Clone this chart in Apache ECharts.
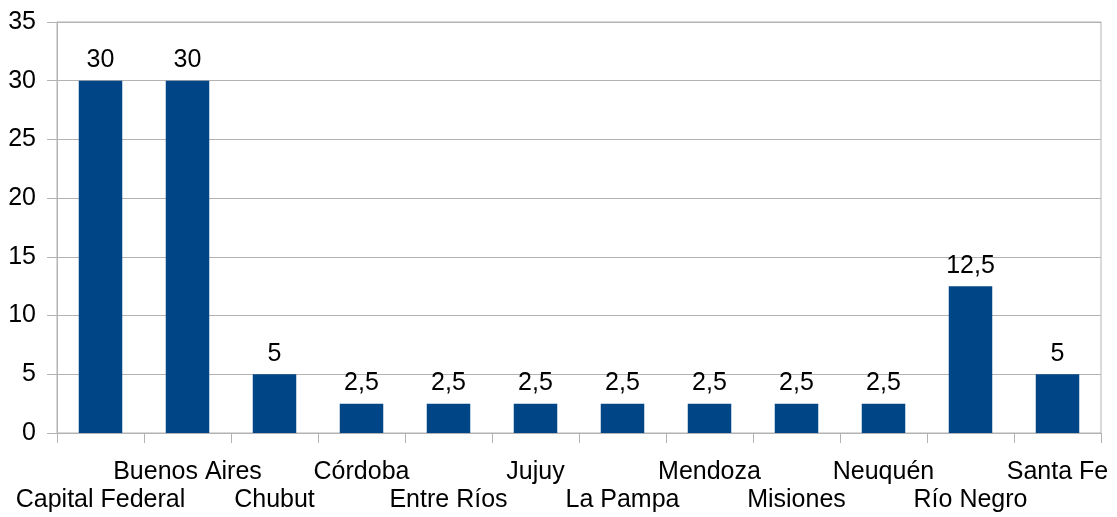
<!DOCTYPE html>
<html>
<head>
<meta charset="utf-8">
<script src="https://cdn.jsdelivr.net/npm/echarts@6/dist/echarts.min.js"></script>
<style>
  html, body { margin: 0; padding: 0; background: #fff; }
  #chart { width: 1117px; height: 517px; }
</style>
</head>
<body>
<div id="chart"></div>
<script>
const provinces = ['Capital Federal', 'Buenos Aires', 'Chubut', 'Córdoba', 'Entre Ríos', 'Jujuy',
  'La Pampa', 'Mendoza', 'Misiones', 'Neuquén', 'Río Negro', 'Santa Fe']
const values = [30, 30, 5, 2.5, 2.5, 2.5, 2.5, 2.5, 2.5, 2.5, 12.5, 5]

const font = 'Liberation Sans, Arial, sans-serif'
const chart = echarts.init(document.getElementById('chart'))

const option = {
  animation: false,
  grid: {
    left: 57,
    right: 16,
    top: 22,
    bottom: 84,
    show: true,
    borderColor: '#b3b3b3',
    borderWidth: 1
  },
  xAxis: {
    type: 'category',
    data: provinces,
    axisLine: { lineStyle: { color: '#b3b3b3' } },
    axisTick: { show: true, alignWithLabel: false, length: 10, lineStyle: { color: '#b3b3b3' } },
    axisLabel: {
      interval: 0,
      margin: 25,
      fontFamily: font,
      fontSize: 25,
      lineHeight: 28,
      color: '#000',
      // every other label drops to a second row
      formatter: (v, i) => (i % 2 === 0 ? '\n' + v : v)
    }
  },
  yAxis: {
    type: 'value',
    min: 0,
    max: 35,
    interval: 5,
    axisLine: { show: true, lineStyle: { color: '#b3b3b3' } },
    axisTick: { show: true, length: 10, lineStyle: { color: '#b3b3b3' } },
    splitLine: { lineStyle: { color: '#b3b3b3' } },
    axisLabel: {
      margin: 21,
      fontFamily: font,
      fontSize: 25,
      color: '#000'
    }
  },
  series: [
    {
      type: 'bar',
      data: values,
      barWidth: '50%',
      itemStyle: { color: '#004586' },
      label: {
        show: true,
        position: 'top',
        distance: 8,
        fontFamily: font,
        fontSize: 25,
        color: '#000',
        formatter: p => String(p.value).replace('.', ',')
      }
    }
  ]
}

chart.setOption(option)
</script>
</body>
</html>
